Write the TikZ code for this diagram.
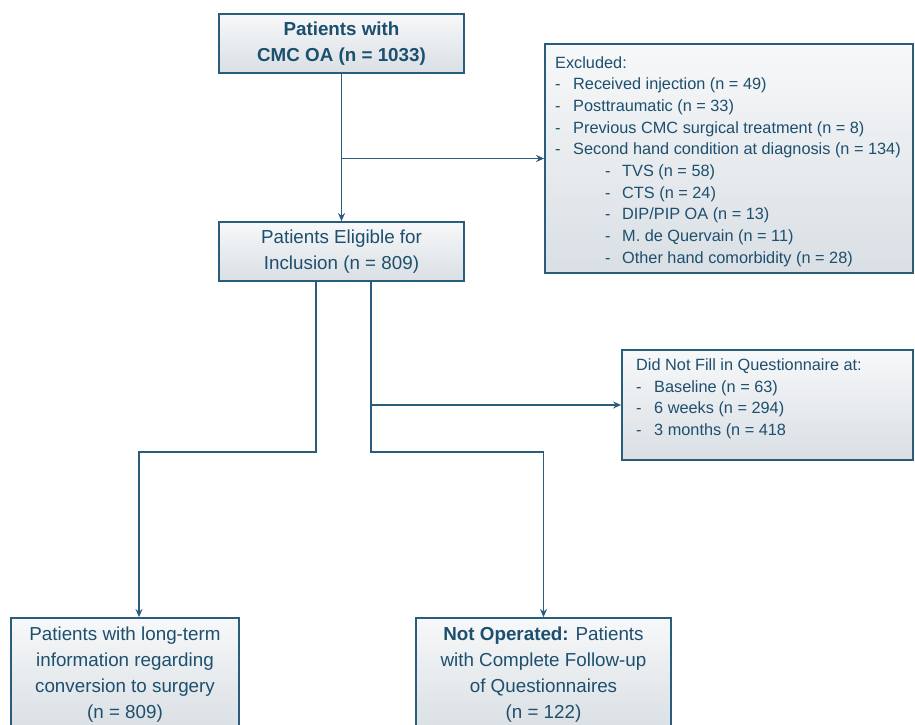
\documentclass[tikz,border=0pt]{standalone}
\usepackage{fontspec}
\setmainfont{Liberation Sans}
\usetikzlibrary{arrows.meta}
\definecolor{ink}{HTML}{1D4F6E}
\definecolor{edge}{HTML}{2A5D7C}
\definecolor{shtop}{HTML}{F7F8F9}
\definecolor{shbot}{HTML}{D9DFE4}
\tikzset{
  box/.style={draw=edge, line width=1.8pt, top color=shtop, bottom color=shbot,
    inner sep=0pt, align=center, text=ink},
  mainfont/.style={font=\fontsize{18.8}{26}\selectfont},
  listtext/.style={inner sep=0pt, anchor=north west, align=left, text=ink,
    font=\fontsize{16.3}{21.7}\selectfont},
  link/.style={draw=edge, line width=1.8pt},
  arr/.style={link, -{Stealth[length=8pt,width=7pt]}}
}
\newcommand{\itm}[1]{\makebox[18pt][l]{-}#1}
\newcommand{\subitm}[1]{\hspace{50pt}\makebox[17pt][l]{-}#1}
\begin{document}
\begin{tikzpicture}[x=1pt,y=-1pt]
\useasboundingbox (0,0) rectangle (915,725);
\clip (0,0) rectangle (915,725);

% main flow boxes
\node[box, mainfont, minimum width=245pt, minimum height=59pt] (top) at (341.5,43.5)
  {\textbf{Patients with}\\\textbf{CMC OA (n = 1033)}};
\node[box, mainfont, minimum width=245pt, minimum height=59pt] (elig) at (341.5,251.5)
  {Patients Eligible for\\Inclusion (n = 809)};

% exclusion box
\node[box, minimum width=368pt, minimum height=229pt] (excl) at (729,158.5) {};
\node[listtext] (excltext) at (555,56) {%
  Excluded:\\
  \itm{Received injection (n = 49)}\\
  \itm{Posttraumatic (n = 33)}\\
  \itm{Previous CMC surgical treatment (n = 8)}\\
  \itm{Second hand condition at diagnosis (n = 134)}\\
  \subitm{TVS (n = 58)}\\
  \subitm{CTS (n = 24)}\\
  \subitm{DIP/PIP OA (n = 13)}\\
  \subitm{M. de Quervain (n = 11)}\\
  \subitm{Other hand comorbidity (n = 28)}};

% questionnaire box
\node[box, minimum width=291pt, minimum height=110pt] (quest) at (767.5,405) {};
\node[listtext] (questtext) at (636,358.5) {%
  Did Not Fill in Questionnaire at:\\
  \itm{Baseline (n = 63)}\\
  \itm{6 weeks (n = 294)}\\
  \itm{3 months (n = 418}};

% outcome boxes
\node[box, mainfont, minimum width=228pt, minimum height=114pt] (left) at (125,675)
  {Patients with long-term\\information regarding\\conversion to surgery\\(n = 809)};
\node[box, mainfont, minimum width=255pt, minimum height=114pt] (right) at (543.5,675)
  {\textbf{Not Operated:} Patients\\with Complete Follow-up\\of Questionnaires\\(n = 122)};

% connectors
\coordinate (b1) at (top.south |- excl.west);
\draw[arr] (top.south) -- (elig.north);
\draw[arr] (b1) -- (excl.west);

\coordinate (l0) at ([xshift=-25.5pt]elig.south);
\coordinate (r0) at ([xshift=29.5pt]elig.south);
\coordinate (lin) at ([xshift=14pt]left.north);
\draw[arr] (l0) -- ++(0,170) -| (lin);
\draw[arr] (r0) -- ++(0,170) -| (right.north);
\coordinate (b2) at (r0 |- quest.west);
\draw[arr] (b2) -- (quest.west);
\end{tikzpicture}
\end{document}
